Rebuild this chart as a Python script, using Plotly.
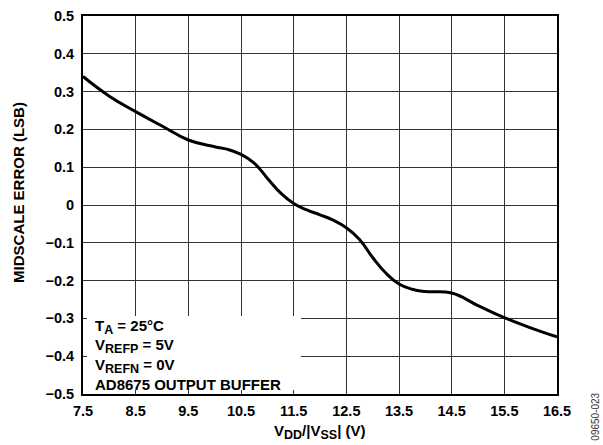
import plotly.graph_objects as go

supply_v = [7.5, 8.0, 8.5, 9.0, 9.5, 10.0, 10.25, 10.5, 10.75, 11.0, 11.25, 11.5, 11.75, 12.0, 12.25, 12.5,
            12.75, 13.0, 13.25, 13.5, 13.75, 14.0, 14.5, 15.0, 15.5, 16.0, 16.5]
midscale_err = [0.34, 0.288, 0.247, 0.209, 0.172, 0.154, 0.147, 0.134, 0.111, 0.071, 0.032, 0.004, -0.013, -0.026,
                -0.040, -0.060, -0.091, -0.139, -0.180, -0.209, -0.223, -0.229, -0.233, -0.266, -0.298, -0.325, -0.349]

x_ticks = [7.5, 8.5, 9.5, 10.5, 11.5, 12.5, 13.5, 14.5, 15.5, 16.5]
y_ticks = [0.5, 0.4, 0.3, 0.2, 0.1, 0, -0.1, -0.2, -0.3, -0.4, -0.5]
y_labels = ["0.5", "0.4", "0.3", "0.2", "0.1", "0", "\u22120.1", "\u22120.2", "\u22120.3", "\u22120.4", "\u22120.5"]

FONT = "Liberation Sans, Arial, sans-serif"
TICKFONT = dict(family=FONT, size=14.5, color="black", weight="bold")


def sub(t):
    return '<sub><span style="font-size:12.5px">' + t + '</span></sub>'


fig = go.Figure()
fig.add_trace(go.Scatter(
    x=supply_v, y=midscale_err, mode="lines",
    line=dict(color="black", width=3, shape="spline", smoothing=1.3),
    hoverinfo="skip", showlegend=False,
))

fig.update_layout(
    width=603, height=445,
    margin=dict(l=83, r=46, t=16, b=51, autoexpand=False),
    paper_bgcolor="white", plot_bgcolor="white",
    font=dict(family=FONT, size=14, color="black"),
    xaxis=dict(
        range=[7.5, 16.5], tickvals=x_ticks, ticktext=[str(v) for v in x_ticks],
        showgrid=True, gridcolor="#333333", gridwidth=1,
        showline=True, linecolor="black", linewidth=2, mirror=True,
        ticks="", zeroline=False, automargin=False, ticklabelstandoff=3,
        tickfont=TICKFONT,
    ),
    yaxis=dict(
        range=[-0.5, 0.5], tickvals=y_ticks, ticktext=y_labels,
        showgrid=True, gridcolor="#333333", gridwidth=1,
        showline=True, linecolor="black", linewidth=2, mirror=True,
        ticks="", zeroline=False, automargin=False, ticklabelstandoff=4,
        tickfont=TICKFONT,
    ),
)

# axis titles
fig.add_annotation(text="<b>V" + sub("DD") + "/|V" + sub("SS") + "| (V)</b>", xref="paper", yref="paper",
                   x=0.5, y=-0.1005, xanchor="center", yanchor="middle", showarrow=False,
                   font=dict(family=FONT, size=15, color="black"))
fig.add_annotation(text="<b>MIDSCALE ERROR (LSB)</b>", xref="paper", yref="paper",
                   x=-0.135, y=0.532, xanchor="center", yanchor="middle", showarrow=False,
                   textangle=-90, font=dict(family=FONT, size=15, color="black"))

# white legend box over the grid (lower-left)
fig.add_shape(type="rect", xref="x", yref="y", layer="above",
              xsizemode="pixel", ysizemode="pixel", xanchor=7.5, yanchor=-0.5,
              x0=4, x1=218, y0=4, y1=78,
              fillcolor="white", line=dict(width=0))

notes = [
    ("T" + sub("A") + " = 25°C", 0.178),
    ("V" + sub("REFP") + " = 5V", 0.128),
    ("V" + sub("REFN") + " = 0V", 0.075),
    ("AD8675 OUTPUT BUFFER", 0.026),
]
for txt, yp in notes:
    fig.add_annotation(text="<b>" + txt + "</b>", xref="paper", yref="paper",
                       x=0.021, y=yp, xanchor="left", yanchor="middle",
                       showarrow=False, align="left",
                       font=dict(family=FONT, size=15, color="black"))

fig.add_annotation(text="09650-023", xref="paper", yref="paper",
                   x=1.0, xshift=39, y=-0.06, textangle=-90,
                   xanchor="center", yanchor="middle", showarrow=False,
                   font=dict(family=FONT, size=10, color="#333333"))

fig.write_html("out.html", config={"displayModeBar": False},
               post_script="document.body.style.margin='0px';")
